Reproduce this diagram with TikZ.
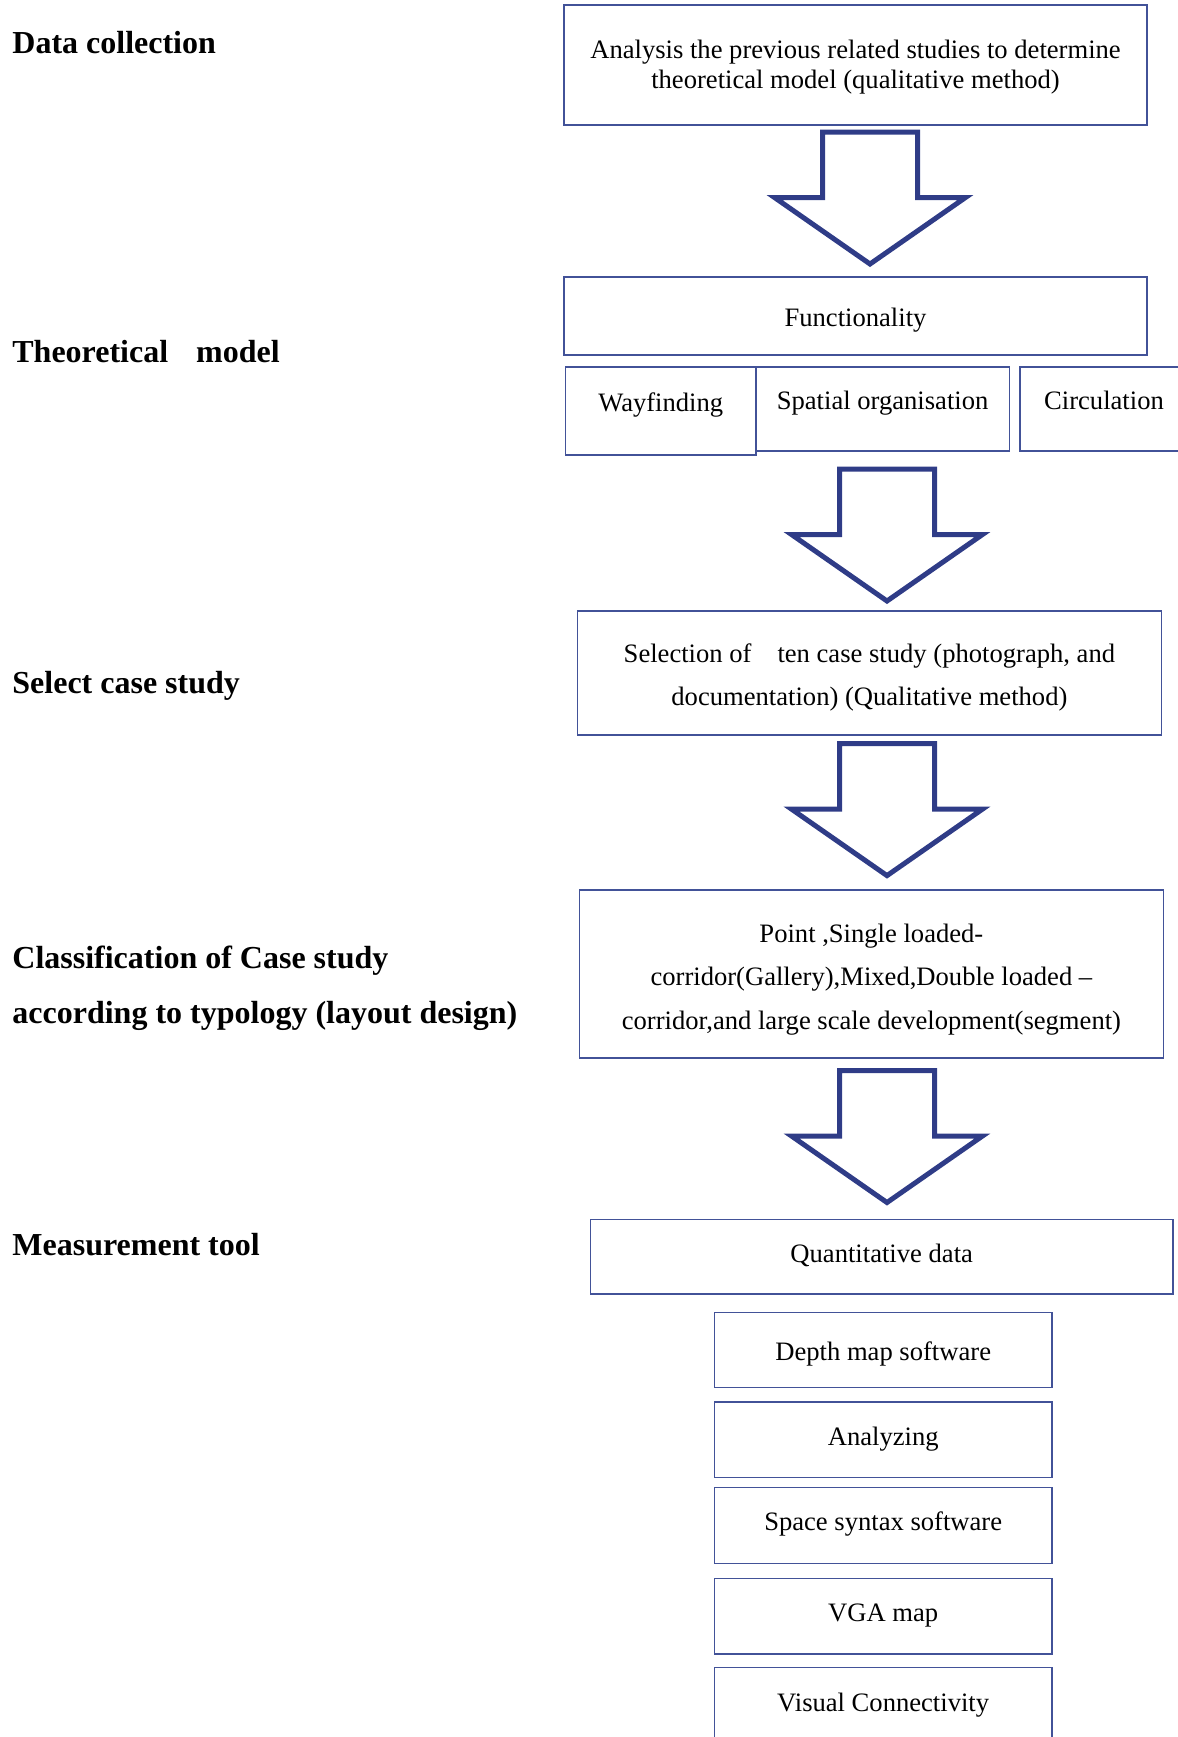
\documentclass[tikz,border=0pt]{standalone}
\usepackage{fontspec}
\setmainfont{Liberation Serif}

\definecolor{boxblue}{RGB}{66,82,152}
\definecolor{arrowblue}{RGB}{47,60,135}

\tikzset{
	box/.style = {draw = boxblue, line width = 0.6pt, align = center, inner sep = 0pt, font = \fontsize{13.3}{15}\selectfont},
	wide/.style = {font = \fontsize{13.3}{21.8}\selectfont},
	oneline/.style = {text height = 11pt, text depth = 1pt},
	lifted/.style = {text height = 9pt, text depth = 3.5pt},
	toptext/.style = {text height = 9pt, text depth = 9pt},
	heading/.style = {anchor = west, inner sep = 0pt, align = left, font = \fontsize{16}{27.7}\selectfont\bfseries},
	downarrow/.pic = {
		\draw[arrowblue, line width = 2.5pt] (-47.5,0) -- (47.5,0) -- (47.5,65.5) -- (95.5,65.5) -- (0,132) -- (-95.5,65.5) -- (-47.5,65.5) -- cycle;
	}
}

\begin{document}
\begin{tikzpicture}[x = 0.5pt, y = -0.5pt]
	
	\useasboundingbox (0,0) rectangle (1178,1737);
	\clip (0,0) rectangle (1178,1737);
	
	% stages on the left
	\node[heading] (hdata) at (12, 43) {Data collection};
	\node[heading] (htheory) at (12, 352) {Theoretical\hspace{14pt}model};
	\node[heading] (hselect) at (12, 685.5) {Select case study};
	\node[heading] (hclass) at (12, 988) {Classification of Case study\\according to typology (layout design)};
	\node[heading] (hmeasure) at (12, 1245) {Measurement tool};
	
	% boxes
	\node[box, minimum width = 291.5pt, minimum height = 60pt] (analysis) at (855.5, 65) {\rule{0pt}{11pt}Analysis the previous related studies to determine\\theoretical model (qualitative method)};
	
	\node[box, oneline, minimum width = 291.5pt, minimum height = 39pt] (func) at (855.5, 316) {Functionality};
	
	\node[box, toptext, minimum width = 95.25pt, minimum height = 44pt] (wayf) at (660.75, 411) {Wayfinding};
	\node[box, toptext, minimum width = 126.5pt, minimum height = 42pt] (spatial) at (882.6, 409) {Spatial organisation};
	\node[box, toptext, minimum width = 84pt, minimum height = 42pt] (circ) at (1104, 409) {Circulation};
	
	\node[box, wide, minimum width = 291.75pt, minimum height = 62pt] (select) at (869.4, 673) {\rule{0pt}{14pt}Selection of\hspace{13pt}ten case study (photograph, and\\documentation) (Qualitative method)};
	
	\node[box, wide, minimum width = 291.75pt, minimum height = 84pt] (typology) at (871.4, 974) {\rule{0pt}{14.5pt}Point ,Single loaded-\\corridor(Gallery),Mixed,Double loaded --\\corridor,and large scale development(segment)};
	
	\node[box, lifted, minimum width = 291.25pt, minimum height = 37.25pt] (quant) at (881.7, 1256.7) {Quantitative data};
	
	\node[box, oneline, minimum width = 168.75pt, minimum height = 37.75pt] (depth) at (883.2, 1350) {Depth map software};
	\node[box, lifted, minimum width = 168.75pt, minimum height = 37.75pt] (analyz) at (883.2, 1439.7) {Analyzing};
	\node[box, lifted, minimum width = 168.75pt, minimum height = 37.75pt] (syntax) at (883.2, 1525.4) {Space syntax software};
	\node[box, lifted, minimum width = 168.75pt, minimum height = 37.75pt] (vga) at (883.2, 1616.2) {VGA map};
	\node[box, lifted, minimum width = 168.75pt, minimum height = 37.75pt] (visual) at (883.2, 1705.5) {Visual Connectivity};
	
	% block arrows
	\pic at (870, 132) {downarrow};
	\pic at (887, 469) {downarrow};
	\pic at (887, 743.6) {downarrow};
	\pic at (887, 1070.5) {downarrow};
	
\end{tikzpicture}
\end{document}
